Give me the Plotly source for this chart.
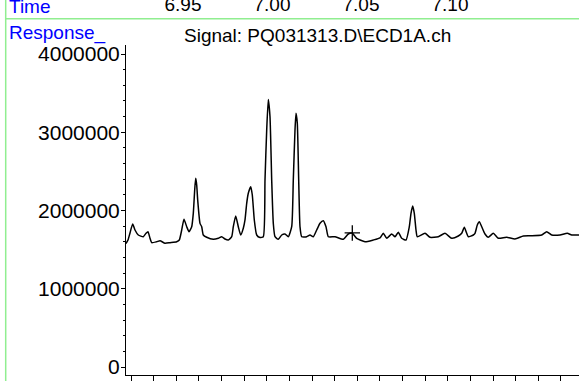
import plotly.graph_objects as go

# ---- data (time in minutes, detector response in counts) ----
time_min = [
    7.0000, 7.0020, 7.0040, 7.0067, 7.0090, 7.0123, 7.0173, 7.0200, 7.0220, 7.0240,
    7.0257, 7.0307, 7.0340, 7.0390, 7.0440, 7.0507, 7.0533, 7.0557, 7.0580, 7.0607,
    7.0630, 7.0657, 7.0673, 7.0687, 7.0697, 7.0707, 7.0717, 7.0740, 7.0757, 7.0773,
    7.0807, 7.0873, 7.0923, 7.0957, 7.0990, 7.1023, 7.1057, 7.1073, 7.1097, 7.1123,
    7.1147, 7.1173, 7.1190, 7.1207, 7.1223, 7.1247, 7.1263, 7.1283, 7.1307, 7.1340,
    7.1373, 7.1390, 7.1407, 7.1423, 7.1440, 7.1457, 7.1473, 7.1490, 7.1523, 7.1557,
    7.1590, 7.1623, 7.1657, 7.1673, 7.1690, 7.1700, 7.1713, 7.1727, 7.1740, 7.1757,
    7.1807, 7.1840, 7.1873, 7.1907, 7.1940, 7.1973, 7.2000, 7.2023, 7.2090, 7.2173,
    7.2223, 7.2263, 7.2307, 7.2390, 7.2473, 7.2540, 7.2573, 7.2607, 7.2657, 7.2690,
    7.2723, 7.2757, 7.2800, 7.2833, 7.2850, 7.2867, 7.2883, 7.2900, 7.2913, 7.2990,
    7.3040, 7.3123, 7.3190, 7.3257, 7.3323, 7.3357, 7.3383, 7.3407, 7.3423, 7.3473,
    7.3490, 7.3513, 7.3533, 7.3557, 7.3590, 7.3623, 7.3673, 7.3723, 7.3807, 7.3890,
    7.3973, 7.4040, 7.4157, 7.4207, 7.4257, 7.4340, 7.4413, 7.4457, 7.4530,
]
response = [
    1578000, 1623000, 1713000, 1828000, 1751000, 1687000, 1665000, 1709000, 1729000, 1645000,
    1589000, 1601000, 1614000, 1581000, 1589000, 1601000, 1623000, 1751000, 1888000, 1793000,
    1729000, 1793000, 1964000, 2262000, 2412000, 2326000, 2134000, 1836000, 1793000, 1687000,
    1658000, 1632000, 1645000, 1665000, 1636000, 1623000, 1665000, 1793000, 1930000, 1793000,
    1687000, 1773000, 1879000, 2092000, 2220000, 2304000, 2198000, 1879000, 1687000, 1655000,
    1665000, 2390000, 3029000, 3419000, 3199000, 2390000, 1836000, 1665000, 1632000, 1687000,
    1700000, 1665000, 1793000, 2390000, 3029000, 3242000, 3114000, 2390000, 1793000, 1665000,
    1665000, 1687000, 1665000, 1751000, 1836000, 1870000, 1793000, 1665000, 1665000, 1632000,
    1700000, 1709000, 1645000, 1601000, 1623000, 1649000, 1709000, 1645000, 1700000, 1665000,
    1721000, 1645000, 1623000, 1793000, 1964000, 2058000, 1964000, 1751000, 1665000, 1709000,
    1658000, 1665000, 1709000, 1645000, 1674000, 1709000, 1785000, 1709000, 1665000, 1687000,
    1709000, 1815000, 1857000, 1793000, 1700000, 1658000, 1709000, 1645000, 1658000, 1636000,
    1674000, 1678000, 1687000, 1729000, 1687000, 1687000, 1709000, 1687000, 1687000,
]

# integration baseline marker
marker_time = [7.2263]
marker_resp = [1713000]

# tick values of the previous panel's time axis shown along the top
top_ticks = [6.95, 7.00, 7.05, 7.10]
top_tick_labels = ["6.95", "7.00", "7.05", "7.10"]

y_ticks = [0, 1000000, 2000000, 3000000, 4000000]
y_tick_labels = ["0", "1000000", "2000000", "3000000", "4000000"]

title_text = "Signal: PQ031313.D\\ECD1A.ch"

FONT = "Arial, Liberation Sans, sans-serif"
W, H = 579, 381
ML, MB = 126, 6
PW, PH = W - ML, H - MB


def px_x(px):
    return (px - ML) / PW


def px_y(py):
    return (PH - py) / PH


fig = go.Figure()
fig.add_trace(go.Scatter(
    x=time_min, y=response, mode="lines",
    line=dict(color="black", width=1.5, shape="spline", smoothing=0.5),
    showlegend=False, hoverinfo="skip",
))
fig.add_trace(go.Scatter(
    x=marker_time, y=marker_resp, mode="markers",
    marker=dict(symbol="cross-thin", size=11, line=dict(color="black", width=1.3)),
    showlegend=False, hoverinfo="skip",
))
fig.add_trace(go.Scatter(
    x=top_ticks, y=[None] * len(top_ticks), xaxis="x2", mode="markers",
    showlegend=False, hoverinfo="skip",
))

fig.update_layout(
    width=W, height=H, autosize=False,
    margin=dict(l=ML, r=0, t=0, b=MB, pad=0),
    paper_bgcolor="white", plot_bgcolor="white",
    font=dict(family=FONT, color="black", size=19),
    xaxis=dict(
        domain=[0, 1], range=[7.0, 7.453], showline=True, linecolor="black", linewidth=1,
        ticks="outside", ticklen=8, tickcolor="black", tickwidth=1,
        tickmode="linear", tick0=7.005, dtick=0.02263,
        showticklabels=False, showgrid=False, zeroline=False, automargin=False,
    ),
    xaxis2=dict(
        overlaying="x", anchor="free", position=px_y(15), side="top",
        range=[6.918, 7.1725], tickmode="array", tickvals=top_ticks, ticktext=top_tick_labels,
        ticks="", showline=False, showgrid=False, zeroline=False,
        tickfont=dict(size=19, color="black", family=FONT), automargin=False,
    ),
    yaxis=dict(
        domain=[0, px_y(45)], range=[-102240, 4115160], showline=True, linecolor="black",
        linewidth=1, ticks="outside", ticklen=4, tickcolor="black",
        tickmode="array", tickvals=y_ticks, ticktext=y_tick_labels,
        tickfont=dict(size=21, color="black", family=FONT),
        ticklabelstandoff=-3,
        showgrid=False, zeroline=False, automargin=False,
        minor=dict(ticks="outside", ticklen=2, dtick=200000, tick0=0,
                   tickcolor="black", showgrid=False),
    ),
    shapes=[
        dict(type="line", xref="paper", yref="paper", x0=px_x(5.7), x1=px_x(5.7),
             y0=px_y(H + 5), y1=px_y(-5), line=dict(color="#90EE90", width=1.5)),
        dict(type="line", xref="paper", yref="paper", x0=px_x(5.7), x1=1.02,
             y0=px_y(18.7), y1=px_y(18.7), line=dict(color="#90EE90", width=1.5)),
    ],
    annotations=[
        dict(text="Time", xref="paper", yref="paper", x=px_x(7), y=px_y(6),
             xanchor="left", yanchor="middle", showarrow=False,
             font=dict(color="#0000FF", size=19, family=FONT)),
        dict(text="Response_", xref="paper", yref="paper", x=px_x(7), y=px_y(33),
             xanchor="left", yanchor="middle", showarrow=False,
             font=dict(color="#0000FF", size=19, family=FONT)),
        dict(text=title_text, xref="paper", yref="paper", x=px_x(317), y=px_y(35.5),
             xanchor="center", yanchor="middle", showarrow=False,
             font=dict(color="black", size=19, family=FONT)),
    ],
)

fig.write_html(
    "out.html",
    config={"displayModeBar": False},
    post_script="document.body.style.margin='0px';document.body.style.overflow='hidden';",
)
